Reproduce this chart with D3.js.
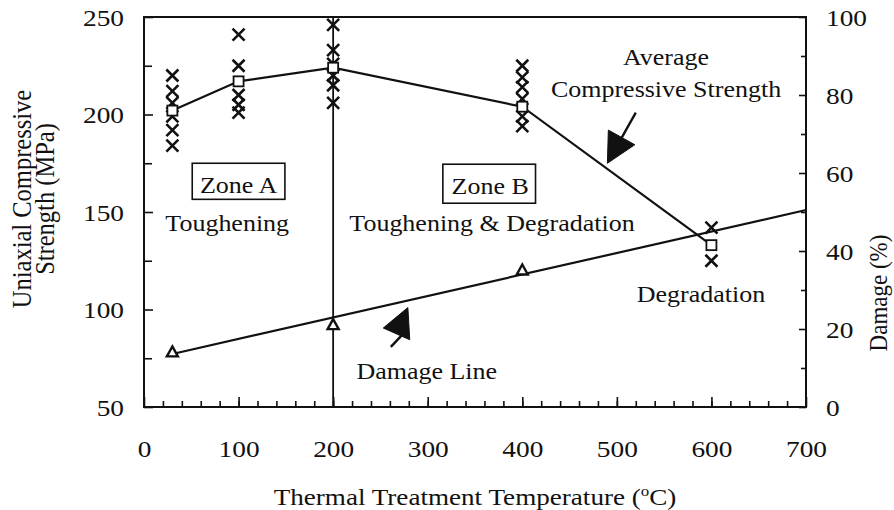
<!DOCTYPE html>
<html>
<head>
<meta charset="utf-8">
<script src="https://cdn.jsdelivr.net/npm/d3@7"></script>
<style>
  html, body { margin: 0; padding: 0; background: #fff; }
  svg { display: block; }
  text { font-family: "Liberation Serif", "Times New Roman", serif; fill: #111; }
</style>
</head>
<body>
<svg id="chart" width="894" height="510"></svg>
<script>
// Thermal treatment temperatures (°C)
const temps = [30, 100, 200, 400, 600];
// Average uniaxial compressive strength (MPa) at each temperature
const avgStrength = [202, 217, 224, 204, 133];
// Individual specimen strengths (MPa)
const strength30 = [220, 212, 206, 199, 192, 184];
const strength100 = [241, 225, 210, 205, 201];
const strength200 = [246, 233, 226, 220, 215, 206];
const strength400 = [225, 219, 214, 208, 199, 194];
const strength600 = [142, 125];
// Measured damage (%)
const damageTemps = [30, 200, 400];
const damageValues = [14, 21, 35];
// Fitted damage line (%)
const damageLineTemps = [30, 700];
const damageLineValues = [13.6, 50.5];
// Axis ticks
const xTicks = [0, 100, 200, 300, 400, 500, 600, 700];
const leftTicks = [50, 100, 150, 200, 250];
const rightTicks = [0, 20, 40, 60, 80, 100];

const W = 894, H = 510;
const m = { left: 144, top: 17, right: 88, bottom: 103 };
const iw = W - m.left - m.right, ih = H - m.top - m.bottom;
const FS = 23, SX = 1.13;       // annotation text
const TFS = 24, TSX = 1.14;     // tick labels

const svg = d3.select("#chart");
const g = svg.append("g").attr("transform", `translate(${m.left},${m.top})`);

const x = d3.scaleLinear().domain([0, 700]).range([0, iw]);
const yL = d3.scaleLinear().domain([50, 250]).range([ih, 0]);
const yR = d3.scaleLinear().domain([0, 100]).range([ih, 0]);

// widen text horizontally around its anchor point
function widen(sel, s = SX) {
  sel.each(function () {
    const t = d3.select(this);
    const tx = +t.attr("x") || 0, ty = +t.attr("y") || 0;
    t.attr("x", 0).attr("y", 0)
     .attr("transform", `translate(${tx},${ty}) scale(${s},1)`);
  });
}

// ---- axes ----
function styleAxis(sel) {
  sel.select(".domain").remove();
  sel.selectAll("line").attr("stroke", "#111").attr("stroke-width", 1.6);
  sel.selectAll("text").attr("font-size", TFS).attr("fill", "#111")
     .style("font-family", '"Liberation Serif", "Times New Roman", serif');
}

// minor ticks
g.append("g").attr("transform", `translate(0,${ih})`)
  .call(d3.axisBottom(x).tickValues(d3.range(20, 700, 20)).tickSize(-6).tickFormat(""))
  .call(styleAxis);
g.append("g")
  .call(d3.axisLeft(yL).tickValues([75, 125, 175, 225]).tickSize(-8).tickFormat(""))
  .call(styleAxis);
g.append("g").attr("transform", `translate(${iw},0)`)
  .call(d3.axisRight(yR).tickValues([10, 30, 50, 70, 90]).tickSize(-5).tickFormat(""))
  .call(styleAxis);

// major ticks with labels
const gx = g.append("g").attr("transform", `translate(0,${ih})`)
  .call(d3.axisBottom(x).tickValues(xTicks).tickSize(-10).tickPadding(33).tickFormat(d3.format("d")))
  .call(styleAxis);
const gl = g.append("g")
  .call(d3.axisLeft(yL).tickValues(leftTicks).tickSize(-9).tickPadding(20).tickFormat(d3.format("d")))
  .call(styleAxis);
const gr = g.append("g").attr("transform", `translate(${iw},0)`)
  .call(d3.axisRight(yR).tickValues(rightTicks).tickSize(-7).tickPadding(20).tickFormat(d3.format("d")))
  .call(styleAxis);
gx.selectAll("text").attr("dy", "0.71em");
gl.selectAll("text").attr("dy", "0.34em");
gr.selectAll("text").attr("dy", "0.34em");
[gx, gl, gr].forEach(a => widen(a.selectAll("text"), TSX));

// frame
g.append("rect").attr("width", iw).attr("height", ih)
  .attr("fill", "none").attr("stroke", "#111").attr("stroke-width", 2);

// zone divider at 200 °C
g.append("line")
  .attr("x1", x(200)).attr("x2", x(200)).attr("y1", 0).attr("y2", ih)
  .attr("stroke", "#111").attr("stroke-width", 1.8);

// ---- specimen crosses ----
const specimens = [strength30, strength100, strength200, strength400, strength600]
  .flatMap((arr, i) => arr.map(v => ({ t: temps[i], v })));
const cs = 6;
g.append("g").selectAll("path").data(specimens).join("path")
  .attr("d", d => {
    const cx = x(d.t), cy = yL(d.v);
    return `M${cx - cs},${cy - cs}L${cx + cs},${cy + cs}M${cx - cs},${cy + cs}L${cx + cs},${cy - cs}`;
  })
  .attr("stroke", "#111").attr("stroke-width", 2.6).attr("fill", "none");

// ---- average strength line ----
const avgData = temps.map((t, i) => ({ t, v: avgStrength[i] }));
g.append("path").datum(avgData)
  .attr("d", d3.line().x(d => x(d.t)).y(d => yL(d.v)))
  .attr("fill", "none").attr("stroke", "#111").attr("stroke-width", 2.2);
const sq = 10;
g.append("g").selectAll("rect").data(avgData).join("rect")
  .attr("x", d => x(d.t) - sq / 2).attr("y", d => yL(d.v) - sq / 2)
  .attr("width", sq).attr("height", sq)
  .attr("fill", "#fff").attr("stroke", "#111").attr("stroke-width", 1.8);

// ---- damage line ----
const dmgLine = damageLineTemps.map((t, i) => ({ t, d: damageLineValues[i] }));
g.append("path").datum(dmgLine)
  .attr("d", d3.line().x(d => x(d.t)).y(d => yR(d.d)))
  .attr("fill", "none").attr("stroke", "#111").attr("stroke-width", 2.2);
const dmgPts = damageTemps.map((t, i) => ({ t, d: damageValues[i] }));
g.append("g").selectAll("path").data(dmgPts).join("path")
  .attr("d", d => {
    const cx = x(d.t), cy = yR(d.d);
    return `M${cx},${cy - 6}L${cx + 5.5},${cy + 4}L${cx - 5.5},${cy + 4}Z`;
  })
  .attr("fill", "#fff").attr("stroke", "#111").attr("stroke-width", 2.4);

// ---- annotations ----
function label(txt, t, v, anchor = "middle") {
  return g.append("text").attr("x", x(t)).attr("y", yL(v))
    .attr("text-anchor", anchor).attr("font-size", FS).text(txt);
}
function boxedLabel(txt, t, v, x0, x1, yTop, yBot) {
  g.append("rect").attr("x", x(x0)).attr("y", yL(yTop))
    .attr("width", x(x1) - x(x0)).attr("height", yL(yBot) - yL(yTop))
    .attr("fill", "#fff").attr("stroke", "#111").attr("stroke-width", 1.6);
  widen(label(txt, t, v));
}
boxedLabel("Zone A", 100, 159.7, 51, 149, 175, 156.5);
widen(label("Toughening", 88, 140.5));
boxedLabel("Zone B", 366, 159.2, 316, 414, 174.5, 154.5);
widen(label("Toughening & Degradation", 368, 140.5));
widen(label("Degradation", 589, 104));
widen(label("Damage Line", 299, 64.5));
widen(label("Average", 552, 225.3));
widen(label("Compressive Strength", 552, 209));

function arrow(tip, c1, c2, s0, s1) {
  g.append("path")
    .attr("d", `M${x(tip[0])},${yL(tip[1])}L${x(c1[0])},${yL(c1[1])}L${x(c2[0])},${yL(c2[1])}Z`)
    .attr("fill", "#111").attr("stroke", "#111").attr("stroke-width", 1);
  g.append("line")
    .attr("x1", x(s0[0])).attr("y1", yL(s0[1])).attr("x2", x(s1[0])).attr("y2", yL(s1[1]))
    .attr("stroke", "#111").attr("stroke-width", 2.4);
}
arrow([490, 175], [491, 192], [519, 184.5], [505, 188], [520, 201]);
arrow([253, 90.5], [279, 101], [281, 84.5], [275, 88], [261, 80.8]);

// ---- axis titles ----
svg.append("text")
  .attr("transform", `translate(${m.left + iw / 2},505) scale(${SX},1)`)
  .attr("text-anchor", "middle").attr("font-size", 24)
  .call(t => {
    t.append("tspan").text("Thermal Treatment Temperature (");
    t.append("tspan").attr("font-size", 15).attr("dy", -9).text("o");
    t.append("tspan").attr("dy", 9).text("C)");
  });

const lt = svg.append("text")
  .attr("transform", `translate(0,199) rotate(-90) scale(1,1.08)`)
  .attr("text-anchor", "middle").attr("font-size", 24.5);
lt.append("tspan").attr("x", 0).attr("y", 29).text("Uniaxial Compressive");
lt.append("tspan").attr("x", 0).attr("y", 50).text("Strength (MPa)");

svg.append("text")
  .attr("transform", `translate(887,293) rotate(-90) scale(1,1.08)`)
  .attr("text-anchor", "middle").attr("font-size", 23)
  .text("Damage (%)");
</script>
</body>
</html>
